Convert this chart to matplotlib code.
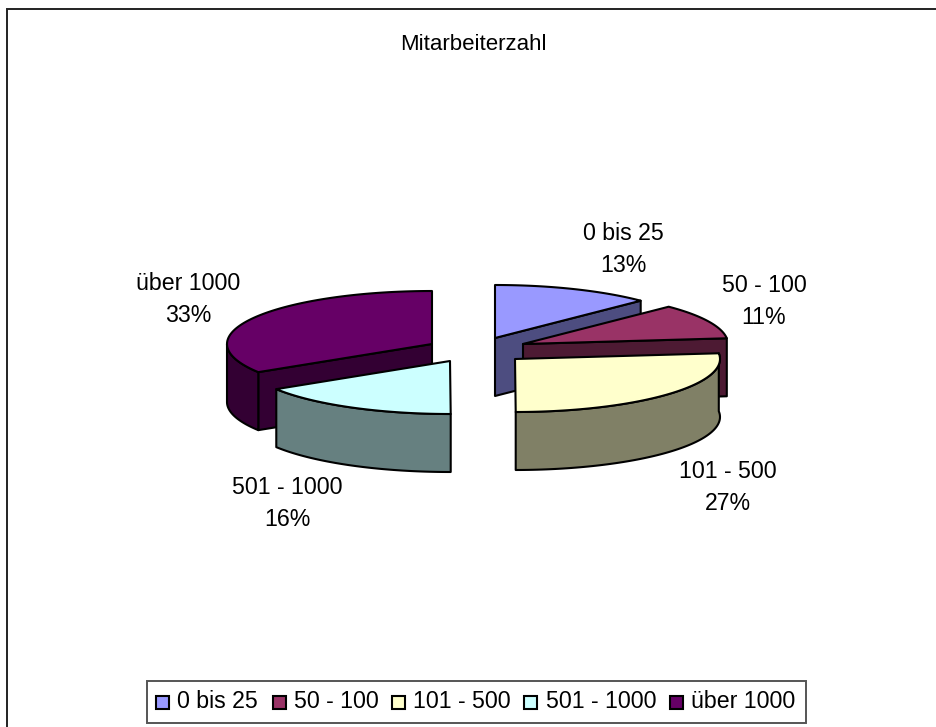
import numpy as np
import matplotlib
matplotlib.use("Agg")
import matplotlib.pyplot as plt
from matplotlib.patches import Polygon, Rectangle

plt.rcParams['font.family'] = ['Liberation Sans', 'DejaVu Sans']

title = "Mitarbeiterzahl"
categories = ["0 bis 25", "50 - 100", "101 - 500", "501 - 1000", "über 1000"]
percent = [13, 11, 27, 16, 33]

top_colors = ["#9999FF", "#993366", "#FFFFCC", "#CCFFFF", "#660066"]
side_colors = ["#4D4D80", "#4D1A33", "#808066", "#668080", "#330033"]
# exploded centre of each slice (pixels)
apex_x = [495, 523, 515, 450, 432]
apex_y = [338, 344, 359, 361, 344]
label_xy = [(623, 249), (764, 302), (728, 487), (287, 503), (188, 299)]

RX, RY, DEPTH = 205, 53, 58
W, H = 936, 727
FS = 16.7

fig = plt.figure(figsize=(W / 100, H / 100), dpi=100, facecolor="white")
ax = fig.add_axes([0, 0, 1, 1])
ax.set_xlim(0, W)
ax.set_ylim(H, 0)
ax.axis("off")


def proj(t):
    """Excel's 3-D view squeezes the angles slightly; t in degrees from 12 o'clock."""
    return t - 3.8 * np.sin(np.radians(t) / 2)


cum = np.concatenate([[0], np.cumsum(percent)]) * 360.0 / np.sum(percent)


def arc(i, a, b, dz=0):
    t = np.radians(np.linspace(a, b, 80))
    return np.column_stack([apex_x[i] + RX * np.sin(t),
                            apex_y[i] - RY * np.cos(t) + dz])


def poly(pts, color, z):
    ax.add_patch(Polygon(pts, closed=True, facecolor=color, edgecolor="black",
                         linewidth=1.5, joinstyle="round", zorder=z))


def top(i, z):
    a, b = proj(cum[i]), proj(cum[i + 1])
    poly(np.vstack([[apex_x[i], apex_y[i]], arc(i, a, b)]), top_colors[i], z)


def cut(i, ang, z):
    e = arc(i, ang, ang)[0]
    ap = np.array([apex_x[i], apex_y[i]], float)
    d = np.array([0, DEPTH])
    poly([ap, e, e + d, ap + d], side_colors[i], z)


def rim(i, a, b, z):
    poly(np.vstack([arc(i, a, b), arc(i, a, b, DEPTH)[::-1]]), side_colors[i], z)


# back-to-front
order = [(0, 1), (1, 2), (4, 3), (3, 4), (2, 5)]
for i, base in order:
    a, b = proj(cum[i]), proj(cum[i + 1])
    z = base * 10
    if i in (0, 1):
        cut(i, b, z)
    if i == 2:
        rim(i, a, b, z)
    if i == 3:
        rim(i, a, b, z)
    if i == 4:
        cut(i, a, z)
        rim(i, a, 270, z + 1)
    top(i, z + 2)

# frame: only the top and left edges fall inside the picture
ax.plot([7, 7, W], [H, 9, 9], color="#222222", linewidth=1.4, zorder=1,
        solid_joinstyle="miter")
ax.text(400, 45, title, ha="left", va="center", fontsize=16.0, color="black")

for name, p, (x, y) in zip(categories, percent, label_xy):
    ax.text(x, y, f"{name}\n{p}%", ha="center", va="center", fontsize=FS,
            linespacing=1.5, color="black", zorder=100)

# legend
ax.add_patch(Rectangle((147, 681), 659, 42, facecolor="white", edgecolor="#555555",
                       linewidth=1.4, zorder=50))
legend_sw = [156, 273, 392, 524, 670]
legend_tx = [177, 294, 413, 546, 691]
for name, col, x, tx in zip(categories, top_colors, legend_sw, legend_tx):
    ax.add_patch(Rectangle((x, 696), 13, 13, facecolor=col, edgecolor="black",
                           linewidth=1.5, zorder=51))
    ax.text(tx, 702, name, ha="left", va="center", fontsize=FS, zorder=51)

fig.savefig("out.png", dpi=100, facecolor="white")
